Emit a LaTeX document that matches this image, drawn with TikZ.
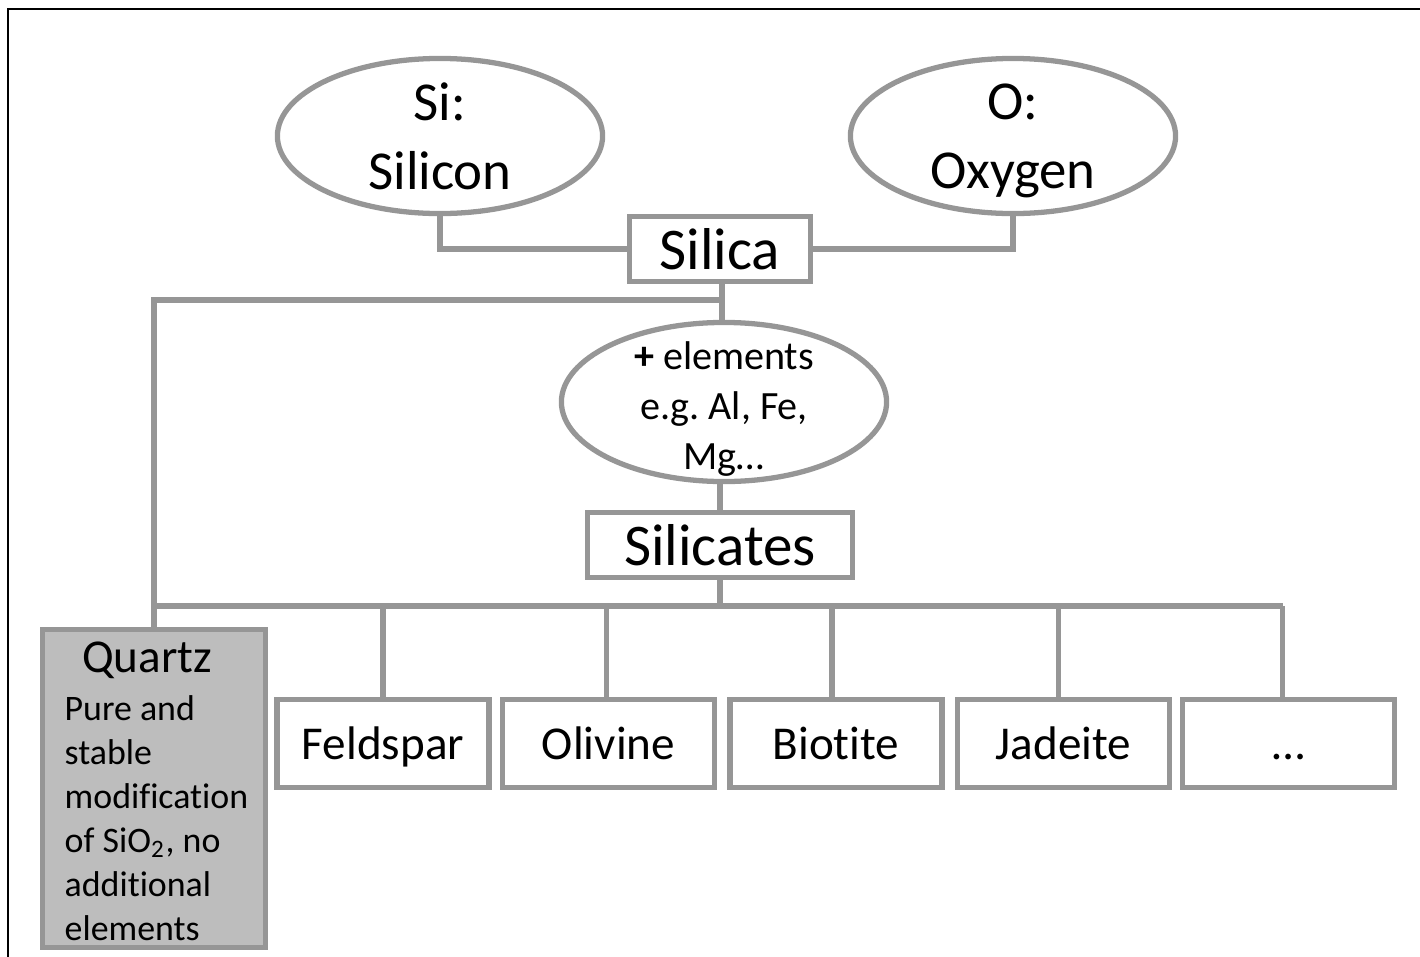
\documentclass[tikz,border=0pt]{standalone}
\usepackage{fontspec}
\setmainfont{Carlito}[Ligatures={NoCommon}]
\usetikzlibrary{shapes.geometric}
\definecolor{lineGray}{HTML}{969696}
\definecolor{quartzGray}{HTML}{BDBDBD}
\frenchspacing

\begin{document}
\begin{tikzpicture}
[x=0.01cm,y=-0.01cm,
  ovalDecorate/.style={shape=ellipse,draw=lineGray,line width=1.5pt,inner sep=0pt,
    minimum width=3.25cm,minimum height=1.55cm,align=center,text depth=0pt,
    font=\fontsize{15.6}{19.5}\selectfont},%
  boxDecorate/.style={shape=rectangle,draw=lineGray,line width=1.5pt,fill=white,inner sep=0pt,
    minimum width=2.12cm,minimum height=0.88cm,text height=9.2pt,text depth=0pt,
    font=\fontsize{13.4}{16}\selectfont},%
  titleDecorate/.style={boxDecorate,minimum height=0.65cm,text height=11.6pt,
    font=\fontsize{16.8}{20}\selectfont},%
  quartzDecorate/.style={boxDecorate,fill=quartzGray,minimum width=2.23cm,minimum height=3.18cm},%
  lineDecorate/.style={-,draw=lineGray,line width=1.5pt}]
\useasboundingbox (0,0) rectangle (1420,957);
%% frame
\draw[line width=0.85pt] (8,957) -- (8,9) -- (1420,9);
%% nodes or vertices
\node (si) at (440,136) [ovalDecorate] {Si:\\Silicon};
\node (oxygen) at (1013,136) [ovalDecorate] {O:\\Oxygen};
\node (silica) at (720,249) [titleDecorate,minimum width=1.81cm] {Silica};
\node (elements) at (724,402) [ovalDecorate,minimum height=1.59cm] {};
\node (elementsText) at (724,409) [align=center,inner sep=0pt,
  font=\fontsize{11.4}{14.2}\selectfont] {\textbf{+} elements\\e.g. Al, Fe,\\Mg…};
\node (silicates) at (720,545) [titleDecorate,minimum width=2.65cm] {Silicates};
\node (quartz) at (154,788.5) [quartzDecorate] {};
\node (quartzTitle) at (147,660) [inner sep=0pt,font=\fontsize{13.4}{16}\selectfont] {Quartz};
\node (quartzText) at (64,695) [anchor=north west,inner sep=0pt,align=left,
  font=\fontsize{10.2}{12.5}\selectfont]
  {Pure and\\stable\\modification\\of SiO\textsubscript{2}, no\\additional\\elements};
\foreach \nodename/\x/\text in {
  feldspar/383/Feldspar, olivine/608.5/Olivine, biotite/836/Biotite,
  jadeite/1063.5/Jadeite, more/1288.5/{\ldots}}
{
  \node (\nodename) at (\x,743.5) [boxDecorate] {\text};
}
%% edges or lines
\coordinate (silicaJoin) at (722,300);
\coordinate (silicatesJoin) at (720,606);
\draw[lineDecorate] (si.south) |- (silica.west);
\draw[lineDecorate] (oxygen.south) |- (silica.east);
\draw[lineDecorate] (silicaJoin |- silica.south) -- (silicaJoin |- elements.north);
\draw[lineDecorate] (silicaJoin) -| (quartz.north);
\draw[lineDecorate] (silicates.north |- elements.south) -- (silicates.north);
\draw[lineDecorate] (silicates.south) -- (silicatesJoin);
\draw[lineDecorate] (quartz.north |- silicatesJoin) -- ([xshift=-0.06cm]more.north |- silicatesJoin);
\foreach \nodename/\shift in {
  feldspar/0, olivine/-2, biotite/-4, jadeite/-5, more/-6}
{
  \draw[lineDecorate] ([xshift=\shift*0.01cm]\nodename.north)
    -- ([xshift=\shift*0.01cm]\nodename.north |- silicatesJoin);
}
\end{tikzpicture}
\end{document}
